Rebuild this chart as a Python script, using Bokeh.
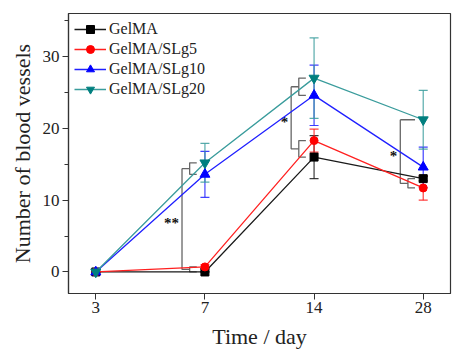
from bokeh.plotting import figure
from bokeh.models import (ColumnDataSource, Whisker, TeeHead, FixedTicker, Legend,
                          LegendItem, Range1d)
from bokeh.embed import file_html
from bokeh.resources import INLINE

# ---------------- data ----------------
days = ["3", "7", "14", "28"]
series_names = ["GelMA", "GelMA/SLg5", "GelMA/SLg10", "GelMA/SLg20"]
gelma = [0.0, 0.0, 16.0, 13.0]
gelma_err = [0.0, 0.0, 3.0, 0.3]
slg5 = [0.0, 0.7, 18.3, 11.7]
slg5_err = [0.0, 0.3, 1.6, 1.7]
slg10 = [0.0, 13.6, 24.6, 14.6]
slg10_err = [0.0, 3.2, 4.2, 2.8]
slg20 = [0.0, 15.2, 27.0, 21.2]
slg20_err = [0.0, 2.7, 5.6, 4.1]
y_ticks = [0, 10, 20, 30]
y_minor = [5, 15, 25, 35]

# significance brackets: (day index, upper group, lower group, mark)
sig_day = [1, 2, 3]
sig_upper = [["GelMA/SLg20", "GelMA/SLg10"], ["GelMA/SLg20", "GelMA/SLg10"], ["GelMA/SLg20"]]
sig_lower = [["GelMA/SLg5", "GelMA"], ["GelMA/SLg5", "GelMA"], ["GelMA", "GelMA/SLg5"]]
sig_mark = ["**", "*", "*"]

values = {"GelMA": gelma, "GelMA/SLg5": slg5, "GelMA/SLg10": slg10, "GelMA/SLg20": slg20}
errors = {"GelMA": gelma_err, "GelMA/SLg5": slg5_err, "GelMA/SLg10": slg10_err, "GelMA/SLg20": slg20_err}

# ---------------- style ----------------
line_colors = {"GelMA": "#1a1a1a", "GelMA/SLg5": "#ff2020", "GelMA/SLg10": "#2020ff", "GelMA/SLg20": "#3a9c9c"}
marker_colors = {"GelMA": "#000000", "GelMA/SLg5": "#ff0000", "GelMA/SLg10": "#0000ff", "GelMA/SLg20": "#007f7f"}
markers = {"GelMA": "square", "GelMA/SLg5": "circle", "GelMA/SLg10": "triangle", "GelMA/SLg20": "inverted_triangle"}
msize = {"GelMA": 8, "GelMA/SLg5": 8, "GelMA/SLg10": 10, "GelMA/SLg20": 10}
SERIF = "Liberation Serif"

p = figure(width=469, height=351, output_backend="svg", toolbar_location=None,
           x_range=Range1d(-0.25, 3.25), y_range=Range1d(-3, 36),
           min_border_left=68, min_border_right=19, min_border_top=13, min_border_bottom=58)
p.background_fill_color = None
p.border_fill_color = "white"
p.xgrid.grid_line_color = None
p.ygrid.grid_line_color = None
p.outline_line_color = "#333333"
p.outline_line_width = 1.2

xs_idx = list(range(len(days)))

# brackets
bx, by = [], []
star_x, star_y, star_t = [], [], []
for d, up, lo, mk in zip(sig_day, sig_upper, sig_lower, sig_mark):
    big = d - 0.21
    inner = d - 0.14
    end = d - 0.075
    def group(names):
        ys = [values[n][d] for n in names]
        if len(ys) == 1:
            bx.append([big, end]); by.append([ys[0], ys[0]])
            return ys[0]
        top, bot = max(ys), min(ys)
        bx.append([end, inner, inner, end]); by.append([top, top, bot, bot])
        return (top + bot) / 2
    m_up = group(up)
    m_lo = group(lo)
    if len(up) > 1:
        bx.append([big, inner]); by.append([m_up, m_up])
    bx.append([inner, big, big]); by.append([m_lo, m_lo, m_up])
    star_x.append(big); star_y.append((m_up + m_lo) / 2); star_t.append(mk)

p.multi_line(bx, by, line_color="#666666", line_width=1.3)
p.text(star_x, star_y, text=star_t, text_align="right", text_baseline="middle",
       x_offset=-3, y_offset=4, text_font_size="15px", text_color="#111111",
       text_font={"value": SERIF}, text_font_style="bold")

legend_items = []
for name in series_names:
    ys = values[name]
    es = errors[name]
    src = ColumnDataSource(dict(x=xs_idx, y=ys,
                                lo=[a - b for a, b in zip(ys, es)],
                                hi=[a + b for a, b in zip(ys, es)]))
    wcol = line_colors[name]
    w = Whisker(source=src, base="x", lower="lo", upper="hi", line_color=wcol,
                line_width=1.2, line_alpha=0.85,
                upper_head=TeeHead(size=9, line_color=wcol, line_width=1.2, line_alpha=0.85),
                lower_head=TeeHead(size=9, line_color=wcol, line_width=1.2, line_alpha=0.85))
    p.add_layout(w)
    r_line = p.line("x", "y", source=src, line_color=line_colors[name], line_width=1.3)
    r_mark = p.scatter("x", "y", source=src, marker=markers[name], size=msize[name],
                       fill_color=marker_colors[name], line_color=marker_colors[name])
    legend_items.append(LegendItem(label=name, renderers=[r_line, r_mark]))

legend = Legend(items=legend_items, location="top_left")
legend.border_line_color = None
legend.background_fill_alpha = 0
legend.padding = 0
legend.margin = 6
legend.spacing = 0
legend.glyph_width = 32
legend.glyph_height = 20
legend.label_height = 20
legend.label_standoff = 3
legend.label_text_font = SERIF
legend.label_text_font_size = "16px"
legend.label_text_color = "#222222"
p.add_layout(legend)

# axes
p.xaxis.ticker = FixedTicker(ticks=xs_idx)
p.xaxis.major_label_overrides = {i: d for i, d in enumerate(days)}
p.yaxis.ticker = FixedTicker(ticks=y_ticks, minor_ticks=y_minor)
for ax in (p.xaxis, p.yaxis):
    ax.axis_line_color = "#333333"
    ax.axis_line_width = 1.2
    ax.major_tick_line_color = "#333333"
    ax.major_tick_out = 6
    ax.major_tick_in = 0
    ax.minor_tick_out = 4
    ax.minor_tick_in = 0
    ax.minor_tick_line_color = "#333333"
    ax.major_label_text_font = SERIF
    ax.major_label_text_font_size = "17px"
    ax.major_label_text_color = "#222222"
    ax.axis_label_text_font = SERIF
    ax.axis_label_text_font_size = "22px"
    ax.axis_label_text_font_style = "normal"
    ax.axis_label_text_color = "#222222"
p.xaxis.minor_tick_line_color = None
p.xaxis.axis_label = "Time / day"
p.yaxis.axis_label = "Number of blood vessels"
p.xaxis.major_label_standoff = 2
p.yaxis.major_label_standoff = 3
p.xaxis.axis_label_standoff = 8
p.yaxis.axis_label_standoff = 5

open("out.html", "w").write(file_html(p, INLINE))
